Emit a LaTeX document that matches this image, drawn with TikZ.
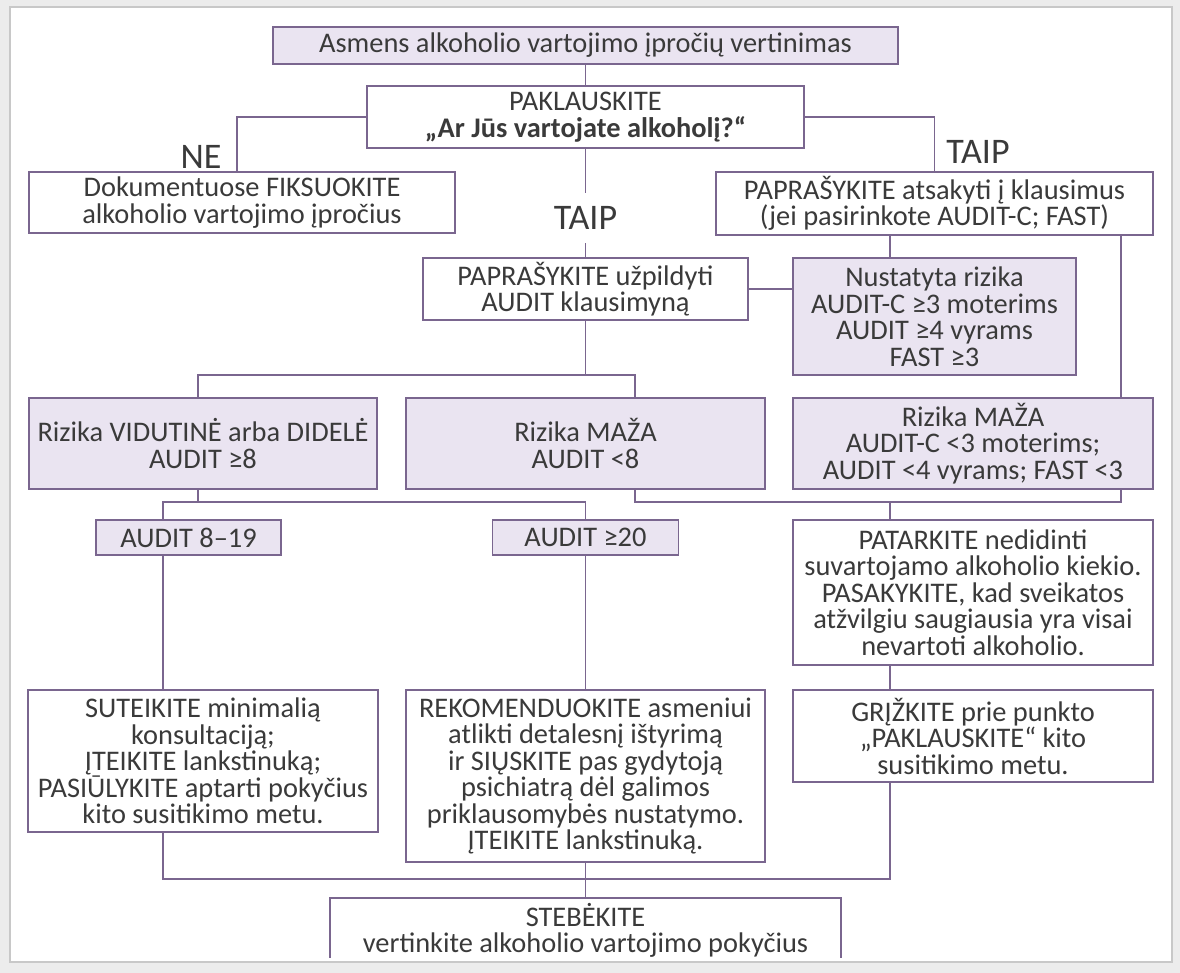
\documentclass[tikz,border=0pt]{standalone}
\usepackage{fontspec}
\setmainfont{Carlito}
\definecolor{linec}{RGB}{122,102,143}
\definecolor{boxfill}{RGB}{234,228,241}
\definecolor{txt}{RGB}{58,58,58}
\definecolor{pagebg}{RGB}{236,236,236}
\definecolor{pageedge}{RGB}{200,200,200}
\begin{document}
\begin{tikzpicture}[x=1pt,y=-1pt,
  box/.style={draw=linec, line width=1.8pt, inner sep=0pt, align=center,
              text=txt, font=\fontsize{28.4}{26.5}\selectfont},
  shaded/.style={box, fill=boxfill},
  plain/.style={box, fill=white},
  conn/.style={draw=linec, line width=1.8pt},
  answer/.style={text=txt, inner sep=0pt, font=\fontsize{36}{36}\selectfont}]

% page
\useasboundingbox (0,0) rectangle (1180,973);
\fill[pagebg] (0,0) rectangle (1180,973);
\draw[pageedge, fill=white, line width=1.5pt] (10,7) rectangle (1172,962);

% column and bus positions of the connectors
\coordinate (colN) at (237,0);
\coordinate (colA) at (163,0);
\coordinate (colB) at (198,0);
\coordinate (colD) at (635,0);
\coordinate (colE) at (890,0);
\coordinate (colF) at (1121,0);
\coordinate (busR) at (0,375);
\coordinate (busM) at (0,502);
\coordinate (busB) at (0,879);

% boxes
\node[shaded, minimum width=625pt, minimum height=37pt] (top) at (585.5,45.5)
  {Asmens alkoholio vartojimo įpročių vertinimas};
\node[plain, minimum width=437pt, minimum height=62pt] (pakl) at (585.5,117)
  {PAKLAUSKITE\\\textbf{„Ar Jūs vartojate alkoholį?“}};
\node[plain, minimum width=426pt, minimum height=61pt] (doc) at (242,202.5)
  {Dokumentuose FIKSUOKITE\\alkoholio vartojimo įpročius};
\node[plain, minimum width=437pt, minimum height=63pt] (ask2) at (934.5,203.5)
  {PAPRAŠYKITE atsakyti į klausimus\\(jei pasirinkote AUDIT-C; FAST)};
\node[plain, minimum width=325pt, minimum height=62pt] (audq) at (585.5,289)
  {PAPRAŠYKITE užpildyti\\AUDIT klausimyną};
\node[shaded, minimum width=283pt, minimum height=117pt] (nust) at (934.5,316.5)
  {Nustatyta rizika\\AUDIT-C ≥3 moterims\\AUDIT ≥4 vyrams\\FAST ≥3};
\node[shaded, minimum width=348pt, minimum height=91pt] (vid) at (203,443.5)
  {Rizika VIDUTINĖ arba DIDELĖ\\AUDIT ≥8};
\node[shaded, minimum width=359pt, minimum height=91pt] (mid) at (585.5,443.5)
  {Rizika MAŽA\\AUDIT <8};
\node[shaded, minimum width=360pt, minimum height=91pt] (lowR) at (973,443.5)
  {Rizika MAŽA\\AUDIT-C <3 moterims;\\AUDIT <4 vyrams; FAST <3};
\node[shaded, minimum width=185pt, minimum height=35pt] (a819) at (188.5,537.5)
  {AUDIT 8–19};
\node[shaded, minimum width=186pt, minimum height=35pt] (a20) at (585.5,537.5)
  {AUDIT ≥20};
\node[plain, minimum width=360pt, minimum height=145pt] (pat) at (973,592.5)
  {PATARKITE nedidinti\\suvartojamo alkoholio kiekio.\\PASAKYKITE, kad sveikatos\\atžvilgiu saugiausia yra visai\\nevartoti alkoholio.};
\node[plain, minimum width=350pt, minimum height=142pt] (sut) at (203,761)
  {SUTEIKITE minimalią\\konsultaciją;\\ĮTEIKITE lankstinuką;\\PASIŪLYKITE aptarti pokyčius\\kito susitikimo metu.};
\node[plain, minimum width=359pt, minimum height=172pt] (rek) at (585.5,776)
  {REKOMENDUOKITE asmeniui\\atlikti detalesnį ištyrimą\\ir SIŲSKITE pas gydytoją\\psichiatrą dėl galimos\\priklausomybės nustatymo.\\ĮTEIKITE lankstinuką.};
\node[plain, minimum width=360pt, minimum height=92pt] (grz) at (973,736)
  {GRĮŽKITE prie punkto\\„PAKLAUSKITE“ kito\\susitikimo metu.};
\begin{scope}
  \clip (0,0) rectangle (1180,957);
  \node[plain, minimum width=511pt, minimum height=65pt] (steb) at (585.5,930.5)
    {STEBĖKITE\\vertinkite alkoholio vartojimo pokyčius};
\end{scope}

% answer labels
\node[answer] (ne) at (201,157) {NE};
\node[answer] (taipR) at (978,152) {TAIP};
\node[answer, minimum height=50pt] (taipM) at (585.5,218) {TAIP};

% connectors
\draw[conn] (top.south) -- (pakl.north);
\draw[conn] (pakl.west) -| (doc.north -| colN);
\draw[conn] (pakl.east) -| (ask2.north);
\draw[conn] (pakl.south) -- (taipM.north);
\draw[conn] (taipM.south) -- (audq.north);
\draw[conn] (audq.east) -- (audq.east -| nust.west);
\draw[conn] (ask2.south -| colE) -- (nust.north -| colE);
\draw[conn] (ask2.south -| colF) -- (lowR.north -| colF);
\draw[conn] (audq.south) -- (audq.south |- busR);
\draw[conn] (vid.north -| colB) |- (busR -| colD) -- (mid.north -| colD);
\draw[conn] (vid.south -| colB) -- (busM -| colB);
\draw[conn] (a819.north -| colA) |- (a20.north |- busM) -- (a20.north);
\draw[conn] (mid.south -| colD) |- (busM -| colF) -- (lowR.south -| colF);
\draw[conn] (busM -| colE) -- (pat.north -| colE);
\draw[conn] (a819.south -| colA) -- (sut.north -| colA);
\draw[conn] (a20.south) -- (rek.north);
\draw[conn] (pat.south -| colE) -- (grz.north -| colE);
\draw[conn] (sut.south -| colA) |- (busB -| colE) -- (grz.south -| colE);
\draw[conn] (rek.south) -- (steb.north);
\end{tikzpicture}
\end{document}
